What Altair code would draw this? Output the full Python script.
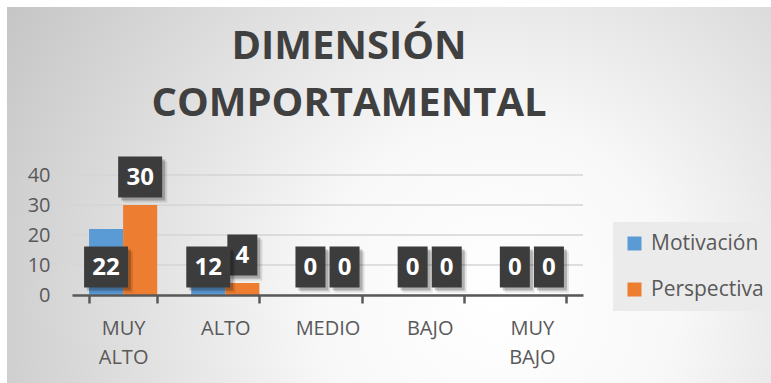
import altair as alt
import pandas as pd

# --- chart data -------------------------------------------------------------
categories = ["MUY ALTO", "ALTO", "MEDIO", "BAJO", "MUY BAJO"]
series = ["Motivación", "Perspectiva"]
motivacion = [22, 12, 0, 0, 0]
perspectiva = [30, 4, 0, 0, 0]
series_colors = ["#5B9BD5", "#ED7D31"]
y_ticks = [0, 10, 20, 30, 40]
title_lines = ["DIMENSIÓN", "COMPORTAMENTAL"]

rows = []
for i, cat in enumerate(categories):
    rows.append({"nivel": cat, "serie": series[0], "valor": motivacion[i]})
    rows.append({"nivel": cat, "serie": series[1], "valor": perspectiva[i]})
df = pd.DataFrame(rows)

FONT = "Open Sans"
TEXT = "#595959"
AXIS_DARK = "#595959"

W, H = 511, 120
PAD = {"left": 72, "top": 175, "right": 771 - 72 - W, "bottom": 383 - 175 - H}

x_enc = alt.X(
    "nivel:N",
    sort=categories,
    scale=alt.Scale(paddingInner=0.333, paddingOuter=0.1667),
    axis=alt.Axis(
        title=None, labelAngle=0, labelExpr="split(datum.label, ' ')",
        labelFont=FONT, labelFontSize=20, labelColor=TEXT, labelLineHeight=29,
        labelPadding=15, tickBand="extent", tickSize=8, tickWidth=2.5,
        tickColor=AXIS_DARK, domainColor=AXIS_DARK, domainWidth=2.5, grid=False,
        zindex=1,
    ),
)
xoff_enc = alt.XOffset("serie:N", sort=series, scale=alt.Scale(paddingInner=0, paddingOuter=0))
y_axis = alt.Axis(
    title=None, values=y_ticks, grid=False, domain=False, ticks=False,
    labelFont=FONT, labelFontSize=20, labelColor=TEXT, labelPadding=22, zindex=1,
)
y_scale = alt.Scale(domain=[0, 40], nice=False)

# soft radial backdrop for the whole chart frame
backdrop = alt.Chart(alt.Data(values=[{}])).mark_rect(
    fill={
        "gradient": "radial",
        "x1": 0.64, "y1": 0.64, "r1": 0,
        "x2": 0.64, "y2": 0.64, "r2": 0.78,
        "stops": [
            {"offset": 0.0, "color": "#ffffff"},
            {"offset": 0.3, "color": "#f8f8f8"},
            {"offset": 1.0, "color": "#c2c2c2"},
        ],
    }
).encode(
    x=alt.value(7 - PAD["left"]), x2=alt.value(771 - PAD["left"]),
    y=alt.value(7 - PAD["top"]), y2=alt.value(383 - PAD["top"]),
)

# two-line chart heading
heading = alt.Chart(alt.Data(values=[{"t": title_lines}])).mark_text(
    font=FONT, fontSize=40, fontWeight="bold", color="#404040",
    align="center", baseline="alphabetic", lineHeight=57,
).encode(
    text="t:N",
    x=alt.value(349 - PAD["left"]),
    y=alt.value(59 - PAD["top"]),
)

# horizontal gridlines at the tick values
grid = alt.Chart(alt.Data(values=[{"v": t} for t in y_ticks])).mark_rule(
    color="#d4d4d4", strokeWidth=1.5
).encode(y=alt.Y("v:Q", scale=y_scale, axis=y_axis))

base = alt.Chart(df)

bars = base.mark_bar().encode(
    x=x_enc,
    xOffset=xoff_enc,
    y=alt.Y("valor:Q", scale=y_scale, axis=y_axis),
    color=alt.Color(
        "serie:N", sort=series,
        scale=alt.Scale(domain=series, range=series_colors),
        legend=alt.Legend(
            title=None, orient="none", legendX=541, legendY=47, direction="vertical",
            symbolType="square", symbolSize=196, symbolStrokeWidth=0,
            labelFont=FONT, labelFontSize=21, labelColor=TEXT, labelOffset=6,
            rowPadding=24, padding=11, fillColor="#ebebeb",
        ),
    ),
)

# data labels: dark boxes above the anchor point
S = 20.0          # path units -> pixels (size 1600)
BOX_H = 41
LIFT = -28


def box_path(half_w, dx=0.0, dy=0.0):
    x0, x1 = (-half_w + dx) / S, (half_w + dx) / S
    y0, y1 = (LIFT - BOX_H / 2 + dy) / S, (LIFT + BOX_H / 2 + dy) / S
    return f"M{x0:.3f},{y0:.3f}H{x1:.3f}V{y1:.3f}H{x0:.3f}Z"


lab = base.transform_calculate(
    ancla="datum.serie == 'Perspectiva' ? datum.valor : 0",
    digitos="length(toString(datum.valor))",
)
lab_enc = dict(x=x_enc, xOffset=xoff_enc, y=alt.Y("ancla:Q", scale=y_scale, axis=y_axis))

box_layers = []
for ndig, half_w in [(1, 15), (2, 22)]:
    sub = lab.transform_filter(f"datum.digitos == {ndig}")
    for off, op in [(5, 0.10), (3, 0.22)]:
        box_layers.append(
            sub.mark_point(filled=True, shape=box_path(half_w, off, off), size=S * S * 4,
                           color="#000000", opacity=op, strokeWidth=0).encode(**lab_enc)
        )
    box_layers.append(
        sub.mark_point(filled=True, shape=box_path(half_w), size=S * S * 4,
                       color="#3c3c3c", opacity=1, strokeWidth=0).encode(**lab_enc)
    )

texts = lab.mark_text(
    font=FONT, fontSize=24, fontWeight="bold", color="#ffffff",
    baseline="middle", align="center", dy=LIFT + 1,
).encode(text=alt.Text("valor:Q"), **lab_enc)

chart = alt.layer(backdrop, heading, grid, bars, *box_layers, texts).properties(
    width=W, height=H,
    padding=PAD,
    autosize=alt.AutoSizeParams(type="none"),
    background="#ffffff",
).configure_view(stroke=None)

chart.save("out.html", embed_options={"renderer": "svg", "actions": False})
